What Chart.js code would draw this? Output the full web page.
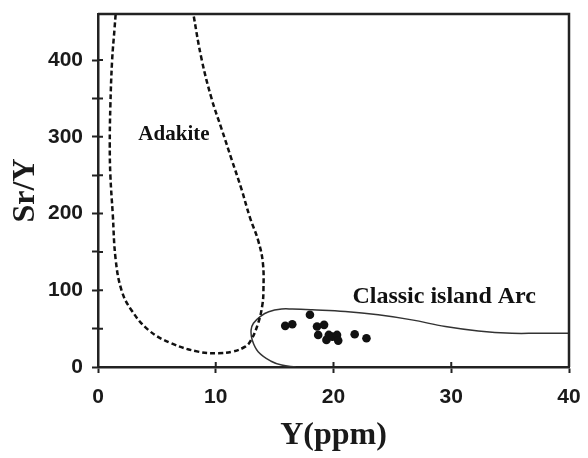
<!DOCTYPE html>
<html>
<head>
<meta charset="utf-8">
<script src="https://cdn.jsdelivr.net/npm/chart.js@4/dist/chart.umd.min.js"></script>
<style>
  body { margin: 0; background: #fff; }
  #wrap { width: 588px; height: 458px; }
</style>
</head>
<body>
<div id="wrap"><canvas id="chart" width="588" height="458"></canvas></div>
<script>
// Y (ppm) vs Sr/Y discrimination diagram

// sample points
const sampleY = [15.9, 16.5, 18.0, 18.6, 19.2, 18.7, 19.6, 19.4, 19.9, 20.3, 20.4, 21.8, 22.8];
const sampleSrY = [53.6, 55.8, 68.0, 52.7, 54.9, 41.8, 41.8, 35.3, 39.6, 41.8, 34.4, 42.7, 37.5];

// adakite field boundary (dashed)
const adakiteY = [1.6, 1.4, 1.2, 1.05, 1.0, 1.05, 1.25, 1.5, 2.0, 2.8, 4.3, 6.2, 8.5, 10.2, 11.4, 12.5, 13.0, 13.6, 13.95, 14.05, 14.0, 13.6, 12.9, 12.2, 11.36, 10.5, 9.66, 8.8, 8.1, 7.9];
const adakiteSrY = [480, 440, 400, 340, 290, 250, 200, 140, 100, 75, 48, 31, 20, 18, 20, 26.5, 35, 57, 80, 100, 136, 165, 195, 231, 270, 310, 349, 401, 460, 480];

// classic island arc field boundary (solid)
const arcY = [16.8, 15.6, 14.7, 13.6, 13.1, 13.0, 13.2, 13.8, 14.5, 15.6, 16.5, 18.2, 21.0, 23.8, 26.65, 29.5, 32.3, 35.15, 37.4, 40];
const arcSrY = [0, 2.5, 7.5, 20, 35, 48, 57, 66, 72, 75.5, 75.5, 74.5, 72.3, 68, 61.4, 52.7, 47, 44, 44, 44];

// axes
const xTickValues = [0, 10, 20, 30, 40];
const yTickValues = [0, 50, 100, 150, 200, 250, 300, 350, 400];

// field labels
const fieldNames = ["Adakite", "Classic island Arc"];
const fieldLabelY = [6.45, 29.4];
const fieldLabelSrY = [303, 91.5];

const toXY = (xs, ys) => xs.map((x, i) => ({ x: x, y: ys[i] }));

const axisColor = "#222";

// draws the top/right frame, inner tick stubs and the field names
const framePlugin = {
  id: "frame",
  afterDraw(chart) {
    const ctx = chart.ctx;
    const area = chart.chartArea;
    const xs = chart.scales.x;
    const ys = chart.scales.y;
    ctx.save();
    ctx.strokeStyle = axisColor;
    ctx.lineWidth = 2.5;
    ctx.beginPath();
    ctx.moveTo(area.left, area.top);
    ctx.lineTo(area.right, area.top);
    ctx.lineTo(area.right, area.bottom);
    ctx.stroke();

    ctx.lineWidth = 2;
    ctx.beginPath();
    yTickValues.forEach((v) => {
      if (v === 0) return;
      const py = ys.getPixelForValue(v);
      ctx.moveTo(area.left, py);
      ctx.lineTo(area.left + 5, py);
    });
    xTickValues.forEach((v) => {
      if (v === 0 || v === 40) return;
      const px = xs.getPixelForValue(v);
      ctx.moveTo(px, area.bottom);
      ctx.lineTo(px, area.bottom - 5);
    });
    ctx.stroke();

    ctx.fillStyle = "#111";
    ctx.textAlign = "center";
    ctx.textBaseline = "middle";
    const sizes = [21, 24];
    fieldNames.forEach((name, i) => {
      ctx.font = "bold " + sizes[i] + 'px "Liberation Serif"';
      ctx.fillText(name, xs.getPixelForValue(fieldLabelY[i]), ys.getPixelForValue(fieldLabelSrY[i]));
    });
    ctx.restore();
  },
};

const ctx = document.getElementById("chart").getContext("2d");

new Chart(ctx, {
  type: "scatter",
  data: {
    datasets: [
      {
        label: "Adakite",
        data: toXY(adakiteY, adakiteSrY),
        showLine: true,
        borderColor: "#111",
        borderWidth: 2.5,
        borderDash: [5, 3],
        pointRadius: 0,
        tension: 0.4,
        fill: false,
      },
      {
        label: "Classic island Arc",
        data: toXY(arcY, arcSrY),
        showLine: true,
        borderColor: "#333",
        borderWidth: 1.5,
        pointRadius: 0,
        tension: 0.4,
        fill: false,
      },
      {
        label: "Samples",
        data: toXY(sampleY, sampleSrY),
        pointRadius: 4.3,
        pointBackgroundColor: "#111",
        pointBorderColor: "#111",
        pointBorderWidth: 0,
      },
    ],
  },
  options: {
    responsive: false,
    animation: false,
    layout: {
      padding: { left: 0, top: 14, right: 19, bottom: 0 },
    },
    plugins: {
      legend: { display: false },
      tooltip: { enabled: false },
    },
    scales: {
      x: {
        type: "linear",
        min: 0,
        max: 40,
        afterFit: (scale) => {
          scale.height = 91;
          scale.paddingLeft = 0;
          scale.paddingRight = 0;
        },
        afterBuildTicks: (scale) => {
          scale.ticks = xTickValues.map((v) => ({ value: v }));
        },
        border: { color: axisColor, width: 2.5 },
        grid: {
          drawOnChartArea: false,
          drawTicks: true,
          tickLength: 6,
          tickColor: axisColor,
          tickWidth: 2,
        },
        ticks: {
          color: "#1a1a1a",
          padding: 12,
          maxRotation: 0,
          autoSkip: false,
          font: { family: '"Liberation Sans"', size: 21, weight: "bold" },
        },
        title: {
          display: true,
          text: "Y(ppm)",
          color: "#1a1a1a",
          padding: { top: 0, bottom: 3 },
          font: { family: '"Liberation Serif"', size: 32, weight: "bold" },
        },
      },
      y: {
        type: "linear",
        min: 0,
        max: 460,
        afterFit: (scale) => {
          scale.width = 98;
          scale.paddingTop = 0;
          scale.paddingBottom = 0;
        },
        afterBuildTicks: (scale) => {
          scale.ticks = yTickValues.map((v) => ({ value: v }));
        },
        border: { color: axisColor, width: 2.5 },
        grid: {
          drawOnChartArea: false,
          drawTicks: true,
          tickLength: 6,
          tickColor: axisColor,
          tickWidth: 2,
        },
        ticks: {
          color: "#1a1a1a",
          padding: 9,
          autoSkip: false,
          callback: function (value) {
            return value % 100 === 0 ? value : "";
          },
          font: { family: '"Liberation Sans"', size: 21, weight: "bold" },
        },
        title: {
          display: true,
          text: "Sr/Y",
          color: "#1a1a1a",
          padding: { top: 7, bottom: 0 },
          font: { family: '"Liberation Serif"', size: 32, weight: "bold" },
        },
      },
    },
  },
  plugins: [framePlugin],
});
</script>
</body>
</html>
